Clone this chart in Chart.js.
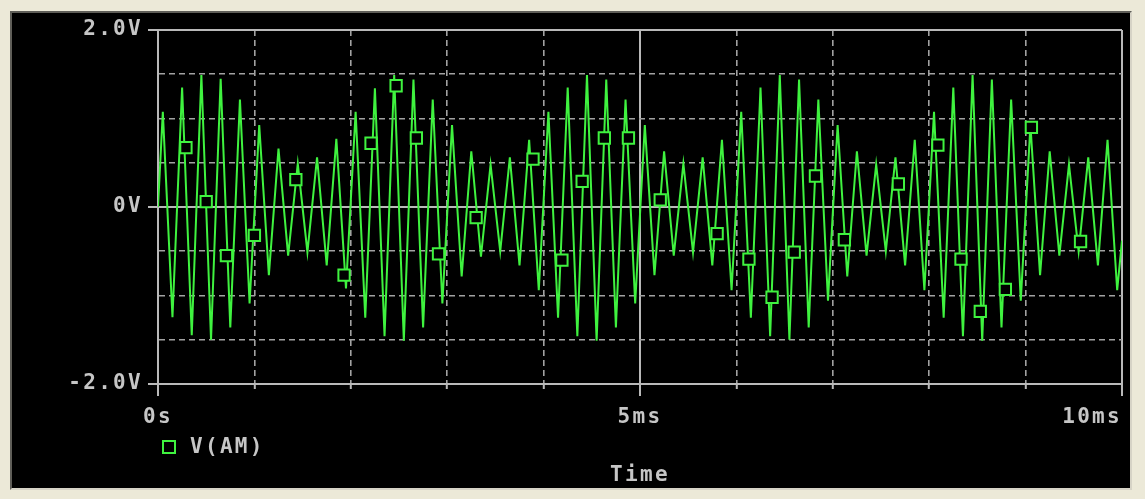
<!DOCTYPE html>
<html>
<head>
<meta charset="utf-8">
<script src="https://cdn.jsdelivr.net/npm/chart.js@4.4.1/dist/chart.umd.min.js"></script>
<style>
  html, body { margin: 0; padding: 0; width: 1145px; height: 499px; overflow: hidden; background: #ece9d8; }
  #frame {
    position: absolute; left: 10px; top: 11px; width: 1118px; height: 475px; background: #000;
    border-top: 2px solid #5f5e58; border-left: 2px solid #5f5e58;
    border-right: 2px solid #d6d3c6; border-bottom: 2px solid #d6d3c6;
  }
  #plot { position: absolute; left: 0; top: 0; }
</style>
</head>
<body>
<div id="frame"></div>
<canvas id="plot" width="1145" height="499"></canvas>
<script>
// ---- V(AM) transient trace: crest and trough samples (time in ms, volts) ----
const crestTimesMs = [
  0.05, 0.25, 0.45, 0.65, 0.85, 1.05, 1.25, 1.45, 1.65, 1.85,
  2.05, 2.25, 2.45, 2.65, 2.85, 3.05, 3.25, 3.45, 3.65, 3.85,
  4.05, 4.25, 4.45, 4.65, 4.85, 5.05, 5.25, 5.45, 5.65, 5.85,
  6.05, 6.25, 6.45, 6.65, 6.85, 7.05, 7.25, 7.45, 7.65, 7.85,
  8.05, 8.25, 8.45, 8.65, 8.85, 9.05, 9.25, 9.45, 9.65, 9.85
];
const crestVolts = [
  1.075, 1.35, 1.49, 1.45, 1.215, 0.925, 0.66, 0.49, 0.56, 0.77,
  1.075, 1.34, 1.49, 1.44, 1.215, 0.925, 0.63, 0.48, 0.56, 0.76,
  1.075, 1.35, 1.49, 1.44, 1.215, 0.925, 0.63, 0.49, 0.56, 0.76,
  1.075, 1.35, 1.49, 1.44, 1.215, 0.925, 0.63, 0.48, 0.56, 0.76,
  1.075, 1.35, 1.49, 1.44, 1.215, 0.925, 0.63, 0.48, 0.56, 0.76
];
const troughTimesMs = [
  0.15, 0.35, 0.55, 0.75, 0.95, 1.15, 1.35, 1.55, 1.75, 1.95,
  2.15, 2.35, 2.55, 2.75, 2.95, 3.15, 3.35, 3.55, 3.75, 3.95,
  4.15, 4.35, 4.55, 4.75, 4.95, 5.15, 5.35, 5.55, 5.75, 5.95,
  6.15, 6.35, 6.55, 6.75, 6.95, 7.15, 7.35, 7.55, 7.75, 7.95,
  8.15, 8.35, 8.55, 8.75, 8.95, 9.15, 9.35, 9.55, 9.75, 9.95
];
const troughVolts = [
  -1.245, -1.45, -1.50, -1.36, -1.09, -0.77, -0.55, -0.51, -0.66, -0.92,
  -1.25, -1.46, -1.51, -1.36, -1.09, -0.785, -0.56, -0.50, -0.66, -0.94,
  -1.25, -1.46, -1.51, -1.36, -1.09, -0.77, -0.55, -0.51, -0.66, -0.94,
  -1.25, -1.46, -1.50, -1.36, -1.06, -0.785, -0.55, -0.50, -0.66, -0.94,
  -1.25, -1.46, -1.51, -1.36, -1.06, -0.77, -0.55, -0.50, -0.66, -0.94
];
const traceStart = [0, 0];       // [ms, V]
const traceEnd = [10, -0.38];    // [ms, V]

// ---- symbol markers placed along the trace ----
const markerTimesMs = [
  0.29, 0.50, 0.71, 1.00, 1.43, 1.93, 2.21, 2.47, 2.68, 2.91,
  3.30, 3.89, 4.19, 4.40, 4.63, 4.88, 5.21, 5.80, 6.13, 6.37,
  6.60, 6.82, 7.12, 7.68, 8.09, 8.33, 8.53, 8.79, 9.06, 9.57
];
const markerVolts = [
  0.67, 0.06, -0.55, -0.32, 0.31, -0.77, 0.72, 1.37, 0.78, -0.53,
  -0.12, 0.54, -0.60, 0.29, 0.78, 0.78, 0.08, -0.30, -0.59, -1.02,
  -0.51, 0.35, -0.37, 0.26, 0.70, -0.59, -1.18, -0.93, 0.90, -0.39
];

// ---- axis tick labels ----
const xTickValues = [0, 5, 10];
const xTickLabels = ['0s', '5ms', '10ms'];
const yTickValues = [2, 0, -2];
const yTickLabels = ['2.0V', '0V', '-2.0V'];
const traceName = 'V(AM)';
const xTitle = 'Time';

// ---- build point lists ----
const traceData = [{ x: traceStart[0], y: traceStart[1] }];
crestTimesMs.forEach((t, i) => {
  traceData.push({ x: t, y: crestVolts[i] });
  traceData.push({ x: troughTimesMs[i], y: troughVolts[i] });
});
traceData.push({ x: traceEnd[0], y: traceEnd[1] });
const markerData = markerTimesMs.map((t, i) => ({ x: t, y: markerVolts[i] }));

// ---- styling ----
const TRACE = '#3ff23f';
const AXIS = '#b9b9b9';
const GRID = '#a2a2a2';
const TEXT = '#c6c6c6';
const SPACING = '2.3px';
const FONT = { family: "'DejaVu Sans Mono', 'Liberation Mono', monospace", size: 21, weight: 'bold', lineHeight: 1.2 };

const isSolidX = v => v === 0 || v === 5 || v === 10;
const isSolidY = v => v === 2 || v === 0 || v === -2;
const tickVal = c => (c && c.tick) ? c.tick.value : null;

// the last time label sits inside the plot's right edge: pad it so its end lands on the tick
const xLabelFor = v => {
  const k = xTickValues.indexOf(v);
  if (k < 0) return '';
  const s = xTickLabels[k];
  return k === xTickValues.length - 1 ? s + ' '.repeat(s.length) : s;
};

const spacingPlugin = {
  id: 'spacing',
  beforeUpdate(chart) { chart.ctx.letterSpacing = SPACING; },
  beforeDraw(chart) { chart.ctx.letterSpacing = SPACING; }
};

const legendPlugin = {
  id: 'traceLegend',
  afterDraw(chart) {
    const c = chart.ctx;
    const left = chart.chartArea.left;
    c.save();
    c.letterSpacing = SPACING;
    c.strokeStyle = TRACE;
    c.lineWidth = 2;
    c.strokeRect(left + 5, 441, 12, 12);
    c.font = `${FONT.weight} ${FONT.size}px ${FONT.family}`;
    c.fillStyle = TEXT;
    c.textAlign = 'left';
    c.textBaseline = 'middle';
    c.fillText(chart.data.datasets[0].label, left + 32, 448);
    c.restore();
  }
};

new Chart(document.getElementById('plot'), {
  type: 'line',
  data: {
    datasets: [
      {
        label: traceName,
        data: traceData,
        borderColor: TRACE,
        borderWidth: 2,
        pointRadius: 0,
        tension: 0,
        order: 1
      },
      {
        label: traceName + ' symbols',
        data: markerData,
        showLine: false,
        pointStyle: 'rect',
        pointRadius: 8,
        pointBorderWidth: 2,
        pointBorderColor: TRACE,
        pointBackgroundColor: '#000',
        order: 0
      }
    ]
  },
  options: {
    responsive: false,
    animation: false,
    events: [],
    layout: { padding: { left: 0, top: 30, right: 23, bottom: 0 } },
    plugins: { legend: { display: false }, tooltip: { enabled: false } },
    scales: {
      x: {
        type: 'linear',
        min: 0,
        max: 10,
        afterFit(s) { s.height = 115; s.paddingRight = 0; },
        ticks: {
          stepSize: 1,
          autoSkip: false,
          maxRotation: 0,
          padding: 9,
          color: TEXT,
          font: FONT,
          callback: v => xLabelFor(v)
        },
        grid: {
          color: c => isSolidX(tickVal(c)) ? AXIS : GRID,
          lineWidth: c => isSolidX(tickVal(c)) ? 2 : 1.6,
          tickLength: 12,
          tickWidth: 2,
          tickColor: AXIS,
          tickBorderDash: c => xTickValues.includes(tickVal(c)) ? [] : [4, 40]
        },
        border: {
          color: AXIS,
          width: 2,
          dash: c => { const v = tickVal(c); return (v === null || isSolidX(v)) ? [] : [6, 4]; }
        },
        title: {
          display: true,
          text: xTitle,
          color: TEXT,
          font: FONT,
          padding: { top: 0, bottom: 11 }
        }
      },
      y: {
        type: 'linear',
        min: -2,
        max: 2,
        afterFit(s) { s.width = 158; },
        ticks: {
          stepSize: 0.5,
          autoSkip: false,
          padding: 5,
          color: TEXT,
          font: FONT,
          callback: v => { const k = yTickValues.indexOf(v); return k >= 0 ? yTickLabels[k] : ''; }
        },
        grid: {
          color: c => isSolidY(tickVal(c)) ? AXIS : GRID,
          lineWidth: c => isSolidY(tickVal(c)) ? 2 : 1.6,
          tickLength: 10,
          tickWidth: 2,
          tickColor: c => yTickValues.includes(tickVal(c)) ? AXIS : 'rgba(0,0,0,0)'
        },
        border: {
          color: AXIS,
          width: 2,
          dash: c => { const v = tickVal(c); return (v === null || isSolidY(v)) ? [] : [6, 4]; }
        }
      }
    }
  },
  plugins: [spacingPlugin, legendPlugin]
});
</script>
</body>
</html>
